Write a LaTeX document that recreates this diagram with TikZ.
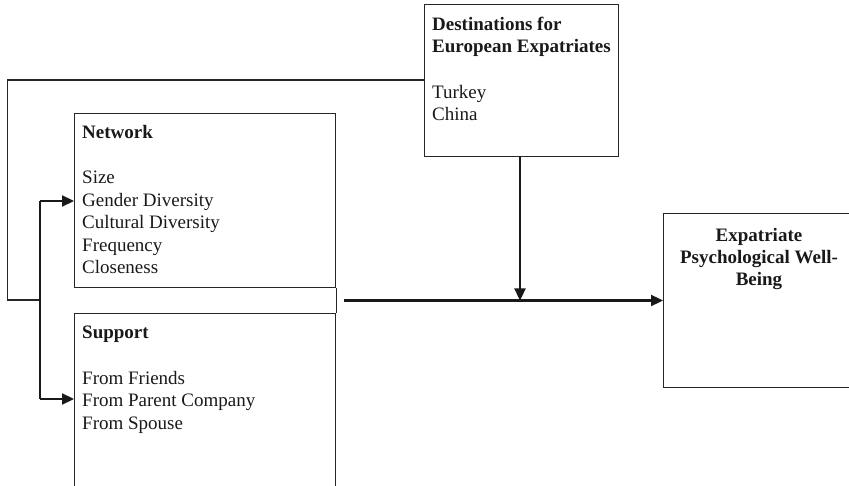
\documentclass[tikz,border=0pt]{standalone}
\usepackage{fontspec}
\setmainfont{Liberation Serif}
\usetikzlibrary{arrows.meta}
\begin{document}
\begin{tikzpicture}[x=1pt,y=-1pt,
  boxline/.style={draw=black!85,line width=1.2pt},
  thinline/.style={draw=black!85,line width=1.2pt},
  boldarrow/.style={draw=black!90,line width=2.3pt,-{Triangle[length=12pt,width=11pt]}},
  boldline/.style={draw=black!90,line width=2.3pt},
  txt/.style={inner sep=0pt,align=left,text=black!90,
    font=\fontsize{19}{22.4}\selectfont},
  head/.style={txt,font=\fontsize{19}{22.4}\selectfont\bfseries}]
\useasboundingbox (0,0) rectangle (849,486);
\clip (0,0) rectangle (849,486);

% boxes
\node[boxline,rectangle,anchor=north west,minimum width=194pt,minimum height=152pt,inner sep=0pt] (dest) at (424,4) {};
\node[boxline,rectangle,anchor=north west,minimum width=261pt,minimum height=174pt,inner sep=0pt] (net) at (74,113) {};
\node[boxline,rectangle,anchor=north west,minimum width=261pt,minimum height=200pt,inner sep=0pt] (sup) at (74,313) {};
\node[boxline,rectangle,anchor=north west,minimum width=192pt,minimum height=174pt,inner sep=0pt] (exp) at (663,213) {};
\draw[thinline] (net.south east) -- (sup.north east);

% texts (base anchor = baseline of the last line)
\node[head,anchor=base west] (destH) at (432,53) {Destinations for\\European Expatriates};
\node[txt,anchor=base west] (destL) at (432,121) {Turkey\\China};
\node[head,anchor=base west] (netH) at (82,139) {Network};
\node[txt,anchor=base west] (netL) at (82,273.6) {Size\\Gender Diversity\\Cultural Diversity\\Frequency\\Closeness};
\node[head,anchor=base west] (supH) at (82,339) {Support};
\node[txt,anchor=base west] (supL) at (82,429) {From Friends\\From Parent Company\\From Spouse};
\node[head,align=center,anchor=base] (expH) at (759,286) {Expatriate\\Psychological Well-\\Being};

% connectors
\coordinate (join) at (40,300);
\coordinate (netIn) at (74,201);
\coordinate (supIn) at (74,399);
\coordinate (start) at (344,300.5);
\coordinate (meet) at (520,300.5);
\draw[thinline] (dest.west |- 0,80) -| (7.5,300) -- (join);
\draw[boldline] (join |- netIn) -- (join |- supIn);
\draw[boldarrow] (join |- netIn) -- (netIn);
\draw[boldarrow] (join |- supIn) -- (supIn);
\draw[boldarrow] (start) -- (exp.west |- start);
\draw[boldarrow] (dest.south -| meet) -- (meet);
\end{tikzpicture}
\end{document}
